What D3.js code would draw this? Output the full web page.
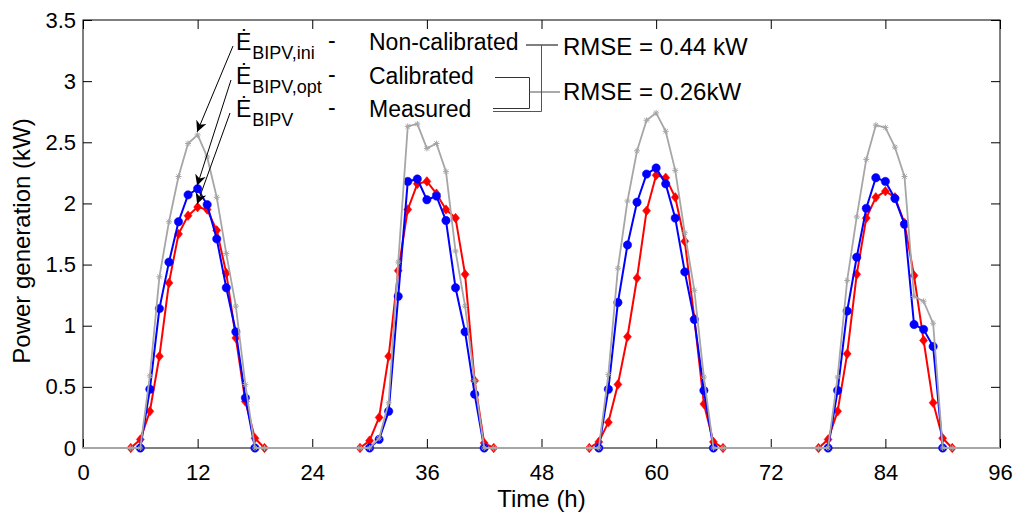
<!DOCTYPE html>
<html>
<head>
<meta charset="utf-8">
<script src="https://cdn.jsdelivr.net/npm/d3@7"></script>
<style>
  body { margin: 0; background: #fff; }
  svg { font-family: Arial, "Liberation Sans", sans-serif; }
</style>
</head>
<body>
<svg id="chart" width="1015" height="520"></svg>
<script>
// hourly values, 0..96 h, one row per day (null = no point plotted)
const hours = d3.range(0, 97);
const _ = null;

const measured = [
  _, _, _, _, _, 0, 0.07, 0.30, 0.75, 1.35, 1.75, 1.90, 1.97, 1.95, 1.78, 1.43, 0.90, 0.38, 0.08, 0, _, _, _, _,
  _, _, _, _, _, 0, 0.06, 0.25, 0.75, 1.45, 1.95, 2.16, 2.18, 2.08, 1.95, 1.88, 1.42, 0.55, 0.04, 0, _, _, _, _,
  _, _, _, _, _, 0, 0.05, 0.21, 0.52, 0.91, 1.39, 1.94, 2.23, 2.21, 2.05, 1.69, 1.06, 0.36, 0.05, 0, _, _, _, _,
  _, _, _, _, _, 0, 0.07, 0.30, 0.77, 1.42, 1.88, 2.05, 2.10, 2.05, 1.84, 1.41, 0.88, 0.37, 0.08, 0, _, _, _, _,
  _
];

const calibrated = [
  _, _, _, _, _, _, 0, 0.48, 1.14, 1.52, 1.85, 2.07, 2.12, 1.99, 1.71, 1.31, 0.95, 0.41, 0, _, _, _, _, _,
  _, _, _, _, _, _, 0, 0.07, 0.30, 1.24, 2.18, 2.20, 2.03, 2.06, 1.86, 1.31, 0.95, 0.44, 0, _, _, _, _, _,
  _, _, _, _, _, _, 0, 0.48, 1.19, 1.66, 2.01, 2.24, 2.29, 2.16, 1.88, 1.44, 1.05, 0.47, 0, _, _, _, _, _,
  _, _, _, _, _, _, 0, 0.47, 1.12, 1.56, 1.96, 2.21, 2.18, 2.04, 1.83, 1.01, 0.97, 0.83, 0, _, _, _, _, _,
  _
];

const nonCalibrated = [
  0, 0, 0, 0, 0, 0, 0, 0.59, 1.40, 1.85, 2.22, 2.49, 2.56, 2.38, 2.05, 1.59, 1.16, 0.52, 0, 0, 0, 0, 0, 0,
  0, 0, 0, 0, 0, 0, 0, 0.08, 0.37, 1.52, 2.63, 2.65, 2.45, 2.49, 2.26, 1.61, 1.16, 0.55, 0, 0, 0, 0, 0, 0,
  0, 0, 0, 0, 0, 0, 0, 0.60, 1.47, 2.02, 2.43, 2.68, 2.74, 2.59, 2.27, 1.76, 1.29, 0.58, 0, 0, 0, 0, 0, 0,
  0, 0, 0, 0, 0, 0, 0, 0.58, 1.37, 1.89, 2.36, 2.64, 2.62, 2.46, 2.22, 1.24, 1.20, 1.02, 0, 0, 0, 0, 0, 0,
  0
];

const xTicks = [0, 12, 24, 36, 48, 60, 72, 84, 96];
const yTicks = [0, 0.5, 1, 1.5, 2, 2.5, 3, 3.5];
const rmseNonCal = "RMSE = 0.44 kW";
const rmseCal = "RMSE = 0.26kW";

const margin = { top: 20, right: 15, bottom: 72, left: 83 };
const width = 1015;
const height = 520;

const svg = d3.select("#chart");

const x = d3.scaleLinear().domain([0, 96]).range([margin.left, width - margin.right]);
const y = d3.scaleLinear().domain([0, 3.5]).range([height - margin.bottom, margin.top]);

// axes, MATLAB style: ticks inside on all four sides
const tickLen = 9;
const fontSize = 22;

svg.append("g")
  .attr("transform", `translate(0,${y(0)})`)
  .call(d3.axisBottom(x).tickValues(xTicks).tickFormat(d3.format("d")).tickSize(-tickLen).tickPadding(16))
  .call((g) => g.select(".domain").remove());
svg.append("g")
  .attr("transform", `translate(0,${y(3.5)})`)
  .call(d3.axisTop(x).tickValues(xTicks).tickFormat("").tickSize(-tickLen))
  .call((g) => g.select(".domain").remove());
svg.append("g")
  .attr("transform", `translate(${x(0)},0)`)
  .call(d3.axisLeft(y).tickValues(yTicks).tickFormat(d3.format("~g")).tickSize(-tickLen).tickPadding(7))
  .call((g) => g.select(".domain").remove());
svg.append("g")
  .attr("transform", `translate(${x(96)},0)`)
  .call(d3.axisRight(y).tickValues(yTicks).tickFormat("").tickSize(-tickLen))
  .call((g) => g.select(".domain").remove());

svg.selectAll(".tick line").attr("stroke", "#000");
svg.selectAll(".tick text")
  .attr("font-size", fontSize)
  .attr("font-family", "Arial, 'Liberation Sans', sans-serif")
  .attr("fill", "#000");

svg.append("rect")
  .attr("x", x(0))
  .attr("y", y(3.5))
  .attr("width", x(96) - x(0))
  .attr("height", y(0) - y(3.5))
  .attr("fill", "none")
  .attr("stroke", "#000")
  .attr("stroke-width", 1);

// axis titles
svg.append("text")
  .attr("x", (x(0) + x(96)) / 2)
  .attr("y", 507)
  .attr("text-anchor", "middle")
  .attr("font-size", 24)
  .text("Time (h)");

svg.append("text")
  .attr("transform", `translate(30,${(y(0) + y(3.5)) / 2 + 7}) rotate(-90)`)
  .attr("text-anchor", "middle")
  .attr("font-size", 24)
  .text("Power generation (kW)");

// series
const series = [
  { values: measured, color: "#ff0000", width: 2, marker: "diamond" },
  { values: calibrated, color: "#0000ff", width: 2, marker: "circle" },
  { values: nonCalibrated, color: "#a6a6a6", width: 1.8, marker: "star" },
];

const line = d3.line()
  .defined((d) => d[1] !== null)
  .x((d) => x(d[0]))
  .y((d) => y(d[1]));

const markerPath = {
  diamond: "M0,-4.8L4,0L0,4.8L-4,0Z",
  circle: d3.symbol(d3.symbolCircle, 55)(),
  star: "M-3,0H3M0,-3V3M-2.2,-2.2L2.2,2.2M-2.2,2.2L2.2,-2.2",
};

for (const s of series) {
  const pts = hours.map((h, i) => [h, s.values[i]]);
  svg.append("path")
    .attr("d", line(pts))
    .attr("fill", "none")
    .attr("stroke", s.color)
    .attr("stroke-width", s.width)
    .attr("stroke-linejoin", "round");
  // markers only within the daylight windows (where the measurement exists)
  svg.append("g")
    .selectAll("path")
    .data(pts.filter((d, i) => d[1] !== null && measured[i] !== null))
    .join("path")
    .attr("transform", (d) => `translate(${x(d[0])},${y(d[1])})`)
    .attr("d", markerPath[s.marker])
    .attr("fill", s.marker === "star" ? "none" : s.color)
    .attr("stroke", s.color)
    .attr("stroke-width", s.marker === "star" ? 1 : 0.5);
}

// legend annotation
const legend = [
  { sub: "BIPV,ini", label: "Non-calibrated", y: 50 },
  { sub: "BIPV,opt", label: "Calibrated", y: 84 },
  { sub: "BIPV", label: "Measured", y: 117 },
];

const lg = svg.append("g").attr("font-size", 23);
for (const item of legend) {
  const t = lg.append("text").attr("x", 236).attr("y", item.y);
  t.append("tspan").text("Ė");
  t.append("tspan").attr("font-size", 18).attr("dy", 9).attr("dx", 1).text(item.sub);
  lg.append("text").attr("x", 328).attr("y", item.y - 2).text("-");
  lg.append("text").attr("x", 369).attr("y", item.y).text(item.label);
}

// arrows from the legend symbols to the 12 h peaks
svg.append("defs").append("marker")
  .attr("id", "arrow")
  .attr("viewBox", "0 0 10 10")
  .attr("refX", 10)
  .attr("refY", 5)
  .attr("markerWidth", 11)
  .attr("markerHeight", 11)
  .attr("markerUnits", "userSpaceOnUse")
  .attr("orient", "auto")
  .append("path")
  .attr("d", "M0,0L10,5L0,10L3,5Z")
  .attr("fill", "#000");

const arrows = [
  { from: [233, 46], series: nonCalibrated },
  { from: [231, 80], series: calibrated },
  { from: [230, 113], series: measured },
];
for (const a of arrows) {
  svg.append("line")
    .attr("x1", a.from[0])
    .attr("y1", a.from[1])
    .attr("x2", x(12) - 0.5)
    .attr("y2", y(a.series[12]) - 3)
    .attr("stroke", "#000")
    .attr("stroke-width", 1)
    .attr("marker-end", "url(#arrow)");
}

// RMSE brackets
const br = svg.append("g").attr("fill", "none").attr("stroke-width", 1);
br.append("path").attr("d", "M526,45H558").attr("stroke", "#000");
br.append("path").attr("d", "M541.5,45V111.5H493").attr("stroke", "#555");
br.append("path").attr("d", "M495,77.5H529.5V108.5H493").attr("stroke", "#333");
br.append("path").attr("d", "M529.5,92H560").attr("stroke", "#555");

svg.append("text").attr("x", 563).attr("y", 55).attr("font-size", 24).text(rmseNonCal);
svg.append("text").attr("x", 563).attr("y", 100).attr("font-size", 24).text(rmseCal);
</script>
</body>
</html>
